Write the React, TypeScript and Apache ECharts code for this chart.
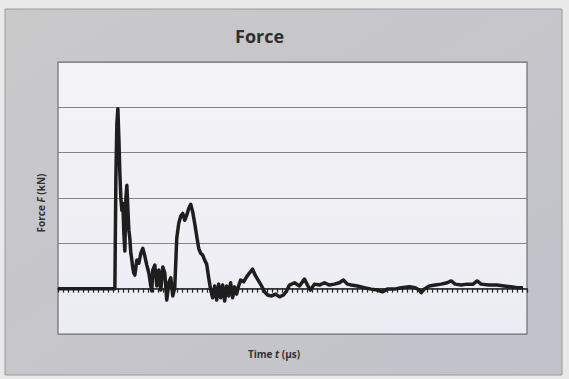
import React, { useEffect, useRef } from "react";
import * as echarts from "echarts";

// Time t (µs)
const timeUs = [
  0, 57, 58, 59, 60, 61, 62, 63, 64, 65, 66, 67, 68, 69, 70, 71, 72, 73, 74, 75, 76, 77,
  79, 81, 83, 85, 87, 89, 91, 93, 94, 95, 97, 99, 101, 103, 105, 107, 109, 111, 113, 115,
  117, 119, 121, 123, 125, 127, 129, 131, 133, 135, 137, 139, 141, 143, 145, 147, 149, 151,
  153, 155, 157, 159, 161, 163, 165, 167, 169, 171, 173, 175, 177, 179, 181, 183, 186, 189,
  192, 195, 198, 201, 204, 207, 210, 214, 218, 222, 226, 229, 232, 237, 242, 247, 250, 253,
  257, 262, 267, 272, 277, 282, 286, 290, 294, 300, 307, 314, 320, 325, 330, 337, 344, 352,
  358, 362, 364, 367, 372, 378, 384, 390, 394, 398, 404, 410, 416, 420, 424, 432, 440, 447,
  454, 460, 466,
];
// Force F (kN)
const forceKN = [
  0, 0, 2.43, 3.64, 3.97, 3.31, 2.54, 1.99, 1.73, 1.88, 1.22, 0.83, 1.99, 2.28, 1.77, 1.29,
  1.11, 0.78, 0.63, 0.45, 0.35, 0.3, 0.63, 0.56, 0.78, 0.89, 0.72, 0.52, 0.35, 0.06, -0.05,
  0.41, 0.52, 0.06, 0.41, -0.03, 0.48, 0.35, -0.25, 0.13, 0.24, -0.16, 0.02, 1.11, 1.44, 1.6,
  1.66, 1.51, 1.62, 1.77, 1.86, 1.69, 1.44, 1.16, 0.89, 0.78, 0.74, 0.63, 0.54, 0.24, -0.03,
  -0.2, 0.06, -0.25, 0.1, -0.2, 0.08, -0.27, 0.06, -0.16, 0.13, -0.2, 0.04, -0.12, 0.06, 0.19,
  0.15, 0.26, 0.35, 0.43, 0.28, 0.17, 0.06, -0.07, -0.14, -0.16, -0.12, -0.18, -0.14, -0.05,
  0.08, 0.13, 0.06, 0.21, 0.08, -0.03, 0.1, 0.08, 0.13, 0.08, 0.1, 0.13, 0.19, 0.1, 0.08, 0.06,
  0.02, -0.01, -0.03, -0.07, -0.01, -0.01, 0.02, 0.04, 0.02, -0.03, -0.09, -0.01, 0.06, 0.08,
  0.1, 0.13, 0.17, 0.1, 0.08, 0.1, 0.1, 0.17, 0.1, 0.08, 0.08, 0.06, 0.04, 0.02, 0.02,
];

const titleText = "Force";
const xName = "Time ";
const xNameItalic = "t";
const xUnit = " (µs)";
const yName = "Force ";
const yNameItalic = "F";
const yUnit = " (kN)";

export default function App() {
  const ref = useRef<HTMLDivElement>(null);
  useEffect(() => {
    if (!ref.current) return;
    const chart = echarts.init(ref.current, null, { renderer: "svg" });
    const data = timeUs.map((t, i) => [t, forceKN[i]]);
    const font = "'Open Sans', 'DejaVu Sans', sans-serif";
    chart.setOption({
      animation: false,
      backgroundColor: "#e9e9e9",
      graphic: [
        {
          type: "rect",
          z: -10,
          silent: true,
          shape: { x: 5, y: 9, width: 557, height: 366 },
          style: {
            fill: new echarts.graphic.LinearGradient(0, 0, 1, 1, [
              { offset: 0, color: "#c9c9ca" },
              { offset: 1, color: "#c2c2cb" },
            ]),
            stroke: "#9a9a9e",
            lineWidth: 1,
          },
        },
        {
          type: "text",
          left: 235,
          top: 27,
          style: {
            text: titleText,
            fontSize: 18,
            fontWeight: "bold",
            fontFamily: font,
            fill: "#2f2f2f",
          },
        },
        {
          type: "text",
          x: 274,
          y: 354,
          style: {
            text: "{n|" + xName + "}{i|" + xNameItalic + "}{n|" + xUnit + "}",
            align: "center",
            verticalAlign: "middle",
            rich: {
              n: { fontSize: 10, fontWeight: "bold", fontFamily: font, fill: "#333" },
              i: { fontSize: 10, fontWeight: "bold", fontStyle: "italic", fontFamily: font, fill: "#333" },
            },
          },
        },
        {
          type: "text",
          x: 41,
          y: 203,
          rotation: Math.PI / 2,
          style: {
            text: "{n|" + yName + "}{i|" + yNameItalic + "}{n|" + yUnit + "}",
            align: "center",
            verticalAlign: "middle",
            rich: {
              n: { fontSize: 10, fontWeight: "bold", fontFamily: font, fill: "#333" },
              i: { fontSize: 10, fontWeight: "bold", fontStyle: "italic", fontFamily: font, fill: "#333" },
            },
          },
        },
      ],
      grid: {
        left: 58,
        top: 62,
        right: 42,
        bottom: 45,
        show: true,
        backgroundColor: new echarts.graphic.LinearGradient(0, 0, 0, 1, [
          { offset: 0, color: "#f4f4f6" },
          { offset: 1, color: "#ececf4" },
        ]),
        borderColor: "#6e6e72",
        borderWidth: 1.2,
      },
      xAxis: {
        type: "value",
        min: 0,
        max: 470,
        interval: 5,
        axisLine: { show: true, onZero: true, lineStyle: { color: "#222", width: 1.5 } },
        axisTick: { show: true, length: 4, lineStyle: { color: "#222", width: 1.2 } },
        axisLabel: { show: false },
        splitLine: { show: false },
      },
      yAxis: {
        type: "value",
        min: -1,
        max: 5,
        interval: 1,
        axisLine: { show: false },
        axisTick: { show: false },
        axisLabel: { show: false },
        splitLine: { show: true, lineStyle: { color: "#858589", width: 1.2 } },
      },
      series: [
        {
          type: "line",
          data,
          showSymbol: false,
          lineStyle: { color: "#1e1e1e", width: 3.5, join: "round" },
          z: 5,
        },
      ],
    });
    return () => chart.dispose();
  }, []);
  return (
    <div
      ref={ref}
      style={{ position: "absolute", left: 0, top: 0, width: 569, height: 379 }}
    />
  );
}
